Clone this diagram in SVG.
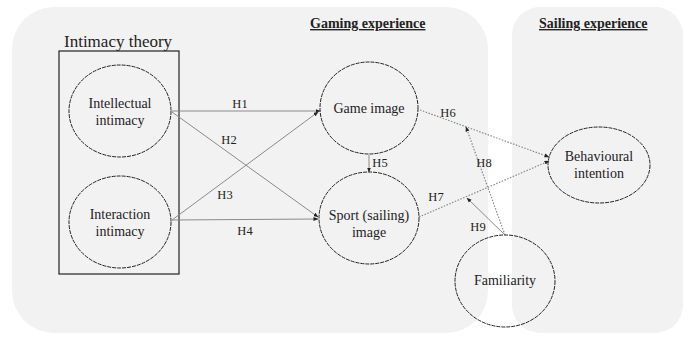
<svg xmlns="http://www.w3.org/2000/svg" width="691" height="338" viewBox="0 0 691 338">
<style>
.panel{fill:#f2f2f2;stroke:none}
.node{fill:none;stroke:#222;stroke-width:1;stroke-dasharray:4 1}
.t{font-family:"Liberation Serif","Times New Roman","DejaVu Serif",serif;font-size:14px;fill:#222;text-anchor:middle}
.lbl{font-family:"Liberation Serif","Times New Roman","DejaVu Serif",serif;font-size:12.5px;fill:#222;text-anchor:middle}
.head{font-family:"Liberation Serif","Times New Roman","DejaVu Serif",serif;font-size:14px;font-weight:bold;fill:#222;text-decoration:underline}
.title{font-family:"Liberation Serif","Times New Roman","DejaVu Serif",serif;font-size:17px;fill:#222}
.solid{stroke:#8a8a8a;stroke-width:1;fill:none}
.dot{stroke:#8a8a8a;stroke-width:1.2;fill:none;stroke-dasharray:1.5 1.5}
</style>
<defs>
<marker id="ah" viewBox="0 0 10 10" refX="9" refY="5" markerWidth="5" markerHeight="5" orient="auto" markerUnits="userSpaceOnUse">
<path d="M0,1 L10,5 L0,9 z" fill="#222"/>
</marker>
</defs>
<g id="panels">
<rect class="panel" x="12" y="7" width="476" height="326" rx="42"/>
<rect class="panel" x="512" y="7" width="171" height="326" rx="28"/>
<text class="head" x="310" y="28">Gaming experience</text>
<text class="head" x="539" y="28">Sailing experience</text>
</g>
<g id="intimacy-theory">
<rect x="59" y="51" width="120" height="223" fill="none" stroke="#222" stroke-width="1.2"/>
<text class="title" x="64" y="47">Intimacy theory</text>
</g>
<g id="connectors">
<line class="solid" x1="172" y1="111" x2="320" y2="111" marker-end="url(#ah)"/>
<line class="solid" x1="172" y1="112" x2="318" y2="217" marker-end="url(#ah)"/>
<line class="solid" x1="172" y1="220" x2="318" y2="112" marker-end="url(#ah)"/>
<line class="solid" x1="172" y1="220" x2="318" y2="219" marker-end="url(#ah)"/>
<line class="solid" x1="369" y1="155" x2="369" y2="172" marker-end="url(#ah)"/>
<line class="dot" x1="420" y1="110" x2="549" y2="157" marker-end="url(#ah)"/>
<line class="dot" x1="419" y1="217" x2="549" y2="161" marker-end="url(#ah)"/>
<line class="dot" x1="505" y1="235" x2="466" y2="127" marker-end="url(#ah)"/>
<line class="solid" x1="505" y1="235" x2="467" y2="198" marker-end="url(#ah)"/>
<text class="lbl" x="240" y="108">H1</text>
<text class="lbl" x="229" y="144">H2</text>
<text class="lbl" x="225" y="199">H3</text>
<text class="lbl" x="245" y="235">H4</text>
<text class="lbl" x="380" y="167">H5</text>
<text class="lbl" x="448" y="117">H6</text>
<text class="lbl" x="436" y="201">H7</text>
<text class="lbl" x="484" y="167">H8</text>
<text class="lbl" x="478" y="231">H9</text>
</g>
<g id="intellectual-intimacy">
<ellipse class="node" cx="120" cy="111" rx="51" ry="46"/>
<text class="t" x="120" y="108">Intellectual</text>
<text class="t" x="120" y="125">intimacy</text>
</g>
<g id="interaction-intimacy">
<ellipse class="node" cx="120" cy="222" rx="51" ry="46"/>
<text class="t" x="120" y="219">Interaction</text>
<text class="t" x="120" y="236">intimacy</text>
</g>
<g id="game-image">
<ellipse class="node" cx="369" cy="108" rx="49" ry="46"/>
<text class="t" x="369" y="113">Game image</text>
</g>
<g id="sport-image">
<ellipse class="node" cx="369" cy="218" rx="50" ry="46"/>
<text class="t" x="369" y="220">Sport (sailing)</text>
<text class="t" x="369" y="237">image</text>
</g>
<g id="behavioural-intention">
<ellipse class="node" cx="599" cy="165" rx="51" ry="38"/>
<text class="t" x="599" y="161">Behavioural</text>
<text class="t" x="599" y="178">intention</text>
</g>
<g id="familiarity">
<ellipse class="node" cx="505" cy="281" rx="50" ry="46"/>
<text class="t" x="505" y="285">Familiarity</text>
</g>
</svg>
